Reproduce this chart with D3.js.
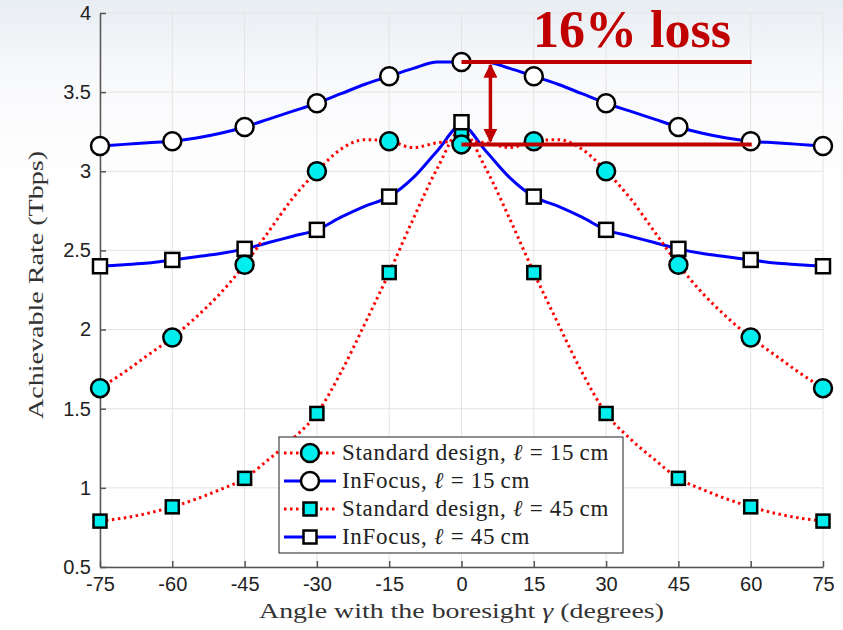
<!DOCTYPE html>
<html>
<head>
  <meta charset="utf-8">
  <title>Achievable Rate vs Angle</title>
  <script src="https://d3js.org/d3.v7.min.js"></script>
  <style>
    body { margin: 0; background: #ffffff; }
    svg { display: block; }
  </style>
</head>
<body>
  <svg id="chart"></svg>
  <script>
    // Marker positions (degrees) and values (Tbps)
    const angles = [-75, -60, -45, -30, -15, 0, 15, 30, 45, 60, 75];
    const std15 = [1.63, 1.95, 2.41, 3.00, 3.19, 3.17, 3.19, 3.00, 2.41, 1.95, 1.63];
    const inf15 = [3.16, 3.19, 3.28, 3.43, 3.60, 3.69, 3.60, 3.43, 3.28, 3.19, 3.16];
    const std45 = [0.79, 0.88, 1.06, 1.47, 2.36, 3.26, 2.36, 1.47, 1.06, 0.88, 0.79];
    const inf45 = [2.40, 2.44, 2.51, 2.63, 2.84, 3.31, 2.84, 2.63, 2.51, 2.44, 2.40];

    // Denser samples of the curves between markers (every 5 degrees)
    const curveAngles = [-75, -70, -65, -60, -55, -50, -45, -40, -35, -30, -25, -20, -15, -10, -5, 0,
                         5, 10, 15, 20, 25, 30, 35, 40, 45, 50, 55, 60, 65, 70, 75];
    const std15Curve = [1.63, 1.73, 1.84, 1.95, 2.08, 2.23, 2.41, 2.62, 2.83, 3.00, 3.14, 3.20, 3.19, 3.15, 3.18, 3.19,
                        3.18, 3.15, 3.19, 3.20, 3.14, 3.00, 2.83, 2.62, 2.41, 2.23, 2.08, 1.95, 1.84, 1.73, 1.63];
    const inf15Curve = [3.16, 3.17, 3.18, 3.19, 3.21, 3.24, 3.28, 3.33, 3.38, 3.43, 3.49, 3.55, 3.60, 3.65, 3.69, 3.69,
                        3.69, 3.65, 3.60, 3.55, 3.49, 3.43, 3.38, 3.33, 3.28, 3.24, 3.21, 3.19, 3.18, 3.17, 3.16];
    const std45Curve = [0.79, 0.81, 0.84, 0.88, 0.93, 0.99, 1.06, 1.18, 1.31, 1.47, 1.73, 2.04, 2.36, 2.70, 3.02, 3.26,
                        3.02, 2.70, 2.36, 2.04, 1.73, 1.47, 1.31, 1.18, 1.06, 0.99, 0.93, 0.88, 0.84, 0.81, 0.79];
    const inf45Curve = [2.40, 2.41, 2.42, 2.44, 2.46, 2.48, 2.51, 2.55, 2.59, 2.63, 2.71, 2.78, 2.84, 2.96, 3.13, 3.29,
                        3.13, 2.96, 2.84, 2.78, 2.71, 2.63, 2.59, 2.55, 2.51, 2.48, 2.46, 2.44, 2.42, 2.41, 2.40];

    // Axis ticks
    const xTicks = [-75, -60, -45, -30, -15, 0, 15, 30, 45, 60, 75];
    const xTickLabels = ["-75", "-60", "-45", "-30", "-15", "0", "15", "30", "45", "60", "75"];
    const yTicks = [0.5, 1, 1.5, 2, 2.5, 3, 3.5, 4];
    const yTickLabels = ["0.5", "1", "1.5", "2", "2.5", "3", "3.5", "4"];

    // Legend entries
    const legendLabels = [
      ["Standard design, ", "15\u2009cm"],
      ["InFocus, ", "15\u2009cm"],
      ["Standard design, ", "45\u2009cm"],
      ["InFocus, ", "45\u2009cm"]
    ];

    // Annotation
    const lossText = "16% loss";
    const lossTop = 3.69, lossBottom = 3.17, lossFrom = 0, lossTo = 60, arrowAt = 6;

    const W = 843, H = 630;
    const margin = {top: 13, right: 23, bottom: 63, left: 100};

    const svg = d3.select("#chart").attr("width", W).attr("height", H);

    // soft slide background
    const defs = svg.append("defs");
    const grad = defs.append("linearGradient").attr("id", "bg").attr("x1", 0).attr("y1", 0).attr("x2", 0).attr("y2", 1);
    grad.append("stop").attr("offset", "0%").attr("stop-color", "#e8edf2");
    grad.append("stop").attr("offset", "12%").attr("stop-color", "#f8f9fb");
    grad.append("stop").attr("offset", "30%").attr("stop-color", "#ffffff");
    svg.append("rect").attr("width", W).attr("height", H).attr("fill", "url(#bg)");

    const x = d3.scaleLinear().domain([-75, 75]).range([margin.left, W - margin.right + 3]);
    const y = d3.scaleLinear().domain([0.5, 4]).range([H - margin.bottom, margin.top]);

    // Grid lines
    svg.append("g").selectAll("line.gx").data(xTicks).enter().append("line")
      .attr("x1", d => x(d)).attr("x2", d => x(d))
      .attr("y1", y(0.5)).attr("y2", y(4))
      .attr("stroke", "#e3e3e3").attr("stroke-width", 1);
    svg.append("g").selectAll("line.gy").data(yTicks).enter().append("line")
      .attr("x1", x(-75)).attr("x2", x(75))
      .attr("y1", d => y(d)).attr("y2", d => y(d))
      .attr("stroke", "#e3e3e3").attr("stroke-width", 1);

    // Axes (ticks point inward, like MATLAB)
    const xAxis = d3.axisBottom(x).tickValues(xTicks).tickSizeInner(-6).tickSizeOuter(0).tickPadding(10)
      .tickFormat((d, i) => xTickLabels[i]);
    const yAxis = d3.axisLeft(y).tickValues(yTicks).tickSizeInner(-6).tickSizeOuter(0).tickPadding(9)
      .tickFormat((d, i) => yTickLabels[i]);

    const gx = svg.append("g").attr("transform", `translate(0,${y(0.5)})`).call(xAxis);
    const gy = svg.append("g").attr("transform", `translate(${x(-75)},0)`).call(yAxis);
    [gx, gy].forEach(g => {
      g.select(".domain").attr("stroke", "#555").attr("stroke-width", 1.5);
      g.selectAll(".tick line").attr("stroke", "#555").attr("stroke-width", 1.5);
      g.selectAll("text")
        .style("font-family", "'Liberation Sans', Arial, sans-serif")
        .style("font-size", "20px")
        .attr("fill", "#222");
    });
    gx.selectAll("text").attr("y", 10).attr("dy", "0.71em");
    gy.selectAll("text").attr("x", -9);

    // Axis titles
    svg.append("text")
      .attr("x", x(0)).attr("y", 618)
      .attr("text-anchor", "middle")
      .attr("textLength", 405).attr("lengthAdjust", "spacingAndGlyphs")
      .style("font-family", "'Liberation Serif', 'Times New Roman', serif")
      .style("font-size", "22px").attr("fill", "#333")
      .text("Angle with the boresight ")
      .append("tspan").style("font-style", "italic").text("\u03b3")
      .select(function() { return this.parentNode; })
      .append("tspan").text(" (degrees)");

    svg.append("text")
      .attr("transform", "translate(43,285) rotate(-90)")
      .attr("text-anchor", "middle")
      .attr("textLength", 268).attr("lengthAdjust", "spacingAndGlyphs")
      .style("font-family", "'Liberation Serif', 'Times New Roman', serif")
      .style("font-size", "22px").attr("fill", "#333")
      .text("Achievable Rate (Tbps)");

    // Series definitions
    const series = [
      {name: "std45", markers: std45, curve: std45Curve, color: "#ff0000", dash: "2.5,3.5", shape: "square", fill: "#00eeee", size: 13},
      {name: "inf45", markers: inf45, curve: inf45Curve, color: "#0000ff", dash: null, shape: "square", fill: "#ffffff", size: 14},
      {name: "inf15", markers: inf15, curve: inf15Curve, color: "#0000ff", dash: null, shape: "circle", fill: "#ffffff", size: 9},
      {name: "std15", markers: std15, curve: std15Curve, color: "#ff0000", dash: "2.5,3.5", shape: "circle", fill: "#00eeee", size: 9}
    ];

    const line = d3.line()
      .x(d => x(d[0]))
      .y(d => y(d[1]))
      .curve(d3.curveMonotoneX);

    const plot = svg.append("g");

    // lines first, then markers on top
    series.forEach(s => {
      plot.append("path")
        .datum(curveAngles.map((a, i) => [a, s.curve[i]]))
        .attr("d", line)
        .attr("fill", "none")
        .attr("stroke", s.color)
        .attr("stroke-width", 3)
        .attr("stroke-dasharray", s.dash);
    });

    function drawMarker(g, shape, cx, cy, size, fill) {
      if (shape === "circle") {
        g.append("circle").attr("cx", cx).attr("cy", cy).attr("r", size)
          .attr("fill", fill).attr("stroke", "#000").attr("stroke-width", 2.5);
      } else {
        g.append("rect").attr("x", cx - size / 2).attr("y", cy - size / 2)
          .attr("width", size).attr("height", size)
          .attr("fill", fill).attr("stroke", "#000").attr("stroke-width", 2.5);
      }
    }

    series.forEach(s => {
      const g = plot.append("g");
      angles.forEach((a, i) => drawMarker(g, s.shape, x(a), y(s.markers[i]), s.size, s.fill));
    });

    // Legend (order as in the figure)
    const legendOrder = ["std15", "inf15", "std45", "inf45"];
    const lg = svg.append("g").attr("transform", "translate(279,437)");
    lg.append("rect").attr("width", 344).attr("height", 116)
      .attr("fill", "#ffffff").attr("stroke", "#444").attr("stroke-width", 1.2);
    legendOrder.forEach((key, i) => {
      const s = series.find(d => d.name === key);
      const ry = 16 + i * 28;
      lg.append("line").attr("x1", 5).attr("x2", 57).attr("y1", ry).attr("y2", ry)
        .attr("stroke", s.color).attr("stroke-width", 3).attr("stroke-dasharray", s.dash);
      drawMarker(lg, s.shape, 31, ry, s.shape === "circle" ? 9 : 13, s.fill);
      const t = lg.append("text").attr("x", 63).attr("y", ry + 7)
        .style("font-family", "'Liberation Serif', 'Times New Roman', serif")
        .style("font-size", "23px").style("letter-spacing", "0.7px").attr("fill", "#222");
      t.append("tspan").text(legendLabels[i][0]);
      t.append("tspan").style("font-style", "italic").text("\u2113");
      t.append("tspan").text(" = " + legendLabels[i][1]);
    });

    // "16% loss" annotation
    const red = "#c00000";
    defs.append("marker").attr("id", "head").attr("viewBox", "0 0 10 10")
      .attr("refX", 9).attr("refY", 5).attr("markerWidth", 4).attr("markerHeight", 4)
      .attr("orient", "auto-start-reverse")
      .append("path").attr("d", "M0,0 L10,5 L0,10 z").attr("fill", red);

    svg.append("line")
      .attr("x1", x(lossFrom)).attr("x2", x(lossTo) + 1)
      .attr("y1", y(lossTop)).attr("y2", y(lossTop))
      .attr("stroke", red).attr("stroke-width", 4);
    svg.append("line")
      .attr("x1", x(lossFrom)).attr("x2", x(lossTo) + 1)
      .attr("y1", y(lossBottom)).attr("y2", y(lossBottom))
      .attr("stroke", red).attr("stroke-width", 4);
    svg.append("line")
      .attr("x1", x(arrowAt)).attr("x2", x(arrowAt))
      .attr("y1", y(lossTop) + 3).attr("y2", y(lossBottom) - 3)
      .attr("stroke", red).attr("stroke-width", 3.5)
      .attr("marker-start", "url(#head)").attr("marker-end", "url(#head)");

    svg.append("text")
      .attr("x", 632).attr("y", 47)
      .attr("text-anchor", "middle")
      .style("font-family", "'Liberation Serif', 'Times New Roman', serif")
      .style("font-size", "52px").style("font-weight", "bold")
      .attr("fill", red)
      .text(lossText);
  </script>
</body>
</html>
